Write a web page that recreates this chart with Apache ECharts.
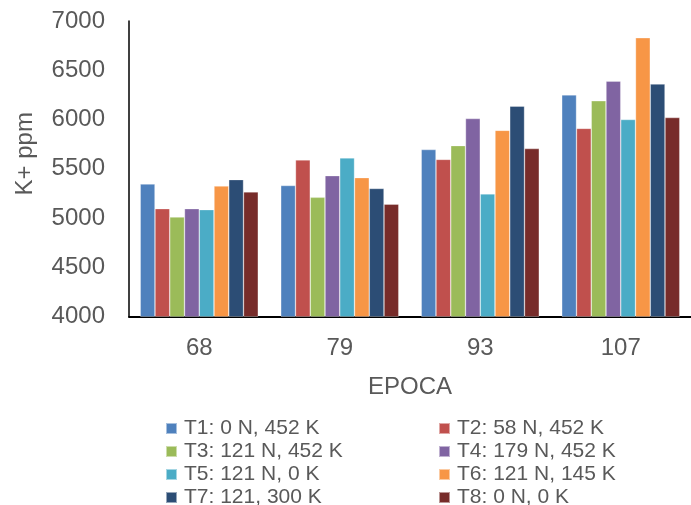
<!DOCTYPE html>
<html>
<head>
<meta charset="utf-8">
<script src="https://cdn.jsdelivr.net/npm/echarts@6/dist/echarts.min.js"></script>
<style>
  html, body { margin: 0; padding: 0; background: #fff; }
  #chart { width: 691px; height: 505px; }
</style>
</head>
<body>
<div id="chart"></div>
<script>
// Sampling epochs (days)
const epochs = ['68', '79', '93', '107'];

// Treatment names
const treatments = [
  'T1: 0 N, 452 K', 'T2: 58 N, 452 K', 'T3: 121 N, 452 K', 'T4: 179 N, 452 K',
  'T5: 121 N, 0 K', 'T6: 121 N, 145 K', 'T7: 121, 300 K', 'T8: 0 N, 0 K'
];

// K+ concentration (ppm) per treatment, one value per epoch
const t1 = [5345, 5330, 5695, 6250];
const t2 = [5095, 5590, 5595, 5910];
const t3 = [5010, 5210, 5735, 6190];
const t4 = [5095, 5430, 6010, 6390];
const t5 = [5085, 5610, 5245, 6000];
const t6 = [5325, 5410, 5890, 6830];
const t7 = [5390, 5300, 6135, 6360];
const t8 = [5265, 5140, 5705, 6020];

const values = [t1, t2, t3, t4, t5, t6, t7, t8];
const colors = ['#4F81BD', '#C0504D', '#9BBB59', '#8064A2', '#4BACC6', '#F79646', '#2C4D75', '#772C2A'];

const textColor = '#595959';
const fontFamily = '"Liberation Sans", Arial, sans-serif';

const chart = echarts.init(document.getElementById('chart'));

const legendText = { fontSize: 21, color: textColor, fontFamily: fontFamily, lineHeight: 23, padding: [0, 0, 0, 2] };

// Two legend columns, four entries each
function legendColumn(left, names) {
  return {
    orient: 'vertical', left: left, top: 417, width: 260, height: 120,
    itemWidth: 11, itemHeight: 11, itemGap: 0, padding: 0,
    textStyle: legendText, icon: 'rect', data: names
  };
}

chart.setOption({
  animation: false,
  textStyle: { fontFamily: fontFamily },
  grid: { left: 129, top: 21, width: 572, height: 295.5, containLabel: false },
  legend: [
    legendColumn(165, [treatments[0], treatments[2], treatments[4], treatments[6]]),
    legendColumn(438, [treatments[1], treatments[3], treatments[5], treatments[7]])
  ],
  xAxis: {
    type: 'category',
    data: epochs,
    name: 'EPOCA',
    nameLocation: 'middle',
    nameGap: 59,
    nameTextStyle: { fontSize: 24, color: textColor },
    axisLine: { lineStyle: { color: '#000', width: 2 } },
    axisTick: { show: false },
    axisLabel: { fontSize: 24, color: textColor, margin: 20 }
  },
  yAxis: {
    type: 'value',
    min: 4000,
    max: 7000,
    interval: 500,
    name: 'K+ ppm',
    nameLocation: 'middle',
    nameGap: 92,
    nameTextStyle: { fontSize: 24, color: textColor, padding: [0, 0, 0, 30] },
    axisLine: { show: true, lineStyle: { color: '#000', width: 1.5 } },
    axisTick: { show: false },
    splitLine: { show: false },
    axisLabel: { fontSize: 24, color: textColor, margin: 24, formatter: v => String(v) }
  },
  series: values.map((v, i) => ({
    name: treatments[i],
    type: 'bar',
    data: v,
    barGap: '0%',
    barCategoryGap: '16%',
    itemStyle: { color: colors[i], borderColor: 'rgba(255,255,255,0.5)', borderWidth: 0.6 }
  }))
});
</script>
</body>
</html>
